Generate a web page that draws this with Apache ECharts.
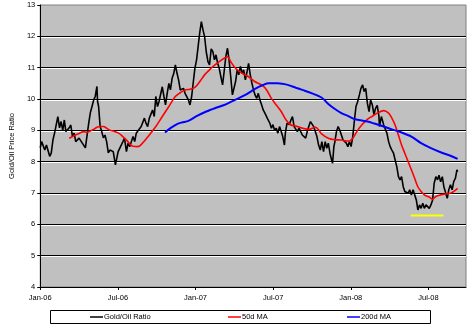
<!DOCTYPE html>
<html style="height: 100%">
<head>
  <meta charset="utf-8">
  <title>Gold/Oil Price Ratio</title>
  <script src="https://cdn.jsdelivr.net/npm/echarts@6/dist/echarts.min.js"></script>
</head>
<body style="margin: 0; height: 100%; background: #fff">
  <div id="main" style="width: 470px; height: 327px"></div>

  <script>
    // x = months since Jan-06
    const xTickMonths = [0, 6, 12, 18, 24, 30];
    const xTickLabels = ['Jan-06', 'Jul-06', 'Jan-07', 'Jul-07', 'Jan-08', 'Jul-08'];

    const ratioT = [0.00, 0.11, 0.35, 0.48, 0.73, 0.85, 0.98, 1.11, 1.36, 1.49, 1.61, 1.74, 1.86, 1.98, 2.24, 2.36, 2.49, 2.62, 2.74, 3.00,
      3.25, 3.49, 3.62, 3.75, 3.87, 4.00, 4.13, 4.25, 4.38, 4.43, 4.51, 4.63, 4.75, 4.88, 5.00, 5.13, 5.26, 5.38, 5.64, 5.81,
      6.02, 6.26, 6.39, 6.51, 6.66, 6.79, 6.92, 7.17, 7.30, 7.42, 7.55, 7.80, 8.05, 8.17, 8.30, 8.43, 8.68, 8.81, 8.93, 9.06,
      9.18, 9.31, 9.43, 9.56, 9.68, 9.81, 9.94, 10.06, 10.19, 10.32, 10.44, 10.57, 10.69, 10.82, 10.94, 11.07, 11.19, 11.32, 11.45, 11.57,
      11.70, 11.83, 11.95, 12.08, 12.20, 12.32, 12.45, 12.58, 12.70, 12.83, 12.96, 13.08, 13.21, 13.34, 13.46, 13.58, 13.71, 13.83, 13.96, 14.09,
      14.21, 14.34, 14.47, 14.59, 14.72, 14.85, 14.97, 15.09, 15.22, 15.34, 15.47, 15.60, 15.72, 15.85, 15.98, 16.10, 16.23, 16.36, 16.48, 16.60,
      16.73, 16.85, 16.98, 17.11, 17.23, 17.36, 17.49, 17.61, 17.74, 17.86, 17.98, 18.11, 18.24, 18.36, 18.49, 18.62, 18.74, 18.87, 18.94, 19.07,
      19.25, 19.37, 19.49, 19.62, 19.75, 19.87, 20.00, 20.25, 20.51, 20.63, 20.75, 20.88, 21.00, 21.13, 21.26, 21.38, 21.51, 21.64, 21.76, 21.89,
      22.02, 22.14, 22.26, 22.39, 22.51, 22.59, 22.69, 22.77, 22.89, 23.02, 23.15, 23.27, 23.40, 23.52, 23.65, 23.77, 23.90, 24.02, 24.15, 24.28,
      24.40, 24.53, 24.66, 24.78, 24.91, 25.03, 25.15, 25.28, 25.41, 25.53, 25.66, 25.79, 25.91, 26.04, 26.17, 26.21, 26.36, 26.54, 26.66, 26.79,
      26.92, 27.04, 27.17, 27.30, 27.42, 27.55, 27.68, 27.80, 27.92, 28.05, 28.17, 28.30, 28.43, 28.55, 28.68, 28.81, 28.93, 29.06, 29.18, 29.31,
      29.43, 29.56, 29.68, 29.81, 29.94, 30.06, 30.19, 30.32, 30.44, 30.57, 30.70, 30.81, 30.94, 31.07, 31.19, 31.32, 31.45, 31.57, 31.70, 31.83,
      31.95, 32.08, 32.20, 32.25];
    const ratioV = [8.45, 8.64, 8.37, 8.53, 8.17, 8.27, 8.69, 8.92, 9.44, 9.08, 9.28, 9.00, 9.33, 8.96, 9.08, 9.17, 8.80, 8.91, 8.64, 8.75,
      8.59, 8.44, 8.85, 9.24, 9.56, 9.76, 9.97, 10.08, 10.40, 9.92, 9.76, 9.12, 8.96, 8.76, 8.85, 8.64, 8.28, 8.37, 8.32, 7.90,
      8.32, 8.53, 8.64, 8.75, 8.32, 8.59, 8.48, 8.80, 8.64, 8.91, 8.85, 9.12, 9.39, 9.23, 9.12, 9.39, 9.65, 9.44, 10.08, 9.76,
      9.92, 9.86, 10.39, 10.08, 9.81, 10.18, 10.50, 10.29, 10.66, 10.82, 11.09, 10.82, 10.61, 10.29, 10.23, 10.34, 10.18, 10.23, 9.97, 9.81,
      10.08, 10.55, 10.98, 11.25, 11.67, 12.10, 12.47, 12.20, 11.99, 11.50, 11.19, 11.09, 11.60, 11.51, 11.25, 11.41, 11.14, 10.98, 10.71, 10.45,
      10.87, 11.35, 11.62, 11.25, 10.71, 10.13, 10.08, 10.55, 10.93, 10.77, 11.04, 10.82, 10.93, 10.61, 10.87, 11.14, 10.77, 10.50, 10.29, 10.13,
      10.02, 10.18, 9.97, 9.81, 9.65, 9.55, 9.44, 9.33, 9.23, 9.07, 9.18, 9.00, 9.07, 8.91, 9.12, 8.96, 8.80, 8.53, 8.91, 9.23,
      9.18, 9.33, 9.44, 9.12, 9.17, 8.96, 9.07, 8.85, 8.75, 8.96, 9.12, 9.28, 9.23, 9.12, 9.07, 8.80, 8.53, 8.37, 8.64, 8.32,
      8.64, 8.43, 8.59, 8.27, 8.06, 7.95, 8.48, 8.64, 8.96, 9.12, 9.00, 8.85, 8.69, 8.64, 8.59, 8.48, 8.64, 8.48, 8.80, 9.33,
      9.76, 9.92, 10.13, 10.34, 10.45, 10.24, 10.34, 9.86, 9.60, 9.97, 9.81, 9.50, 9.70, 9.80, 9.45, 9.12, 9.44, 9.17, 9.12, 8.91,
      8.64, 8.48, 8.37, 8.27, 8.06, 7.84, 7.52, 7.42, 7.52, 7.20, 7.05, 7.10, 6.99, 7.10, 6.94, 7.10, 7.15, 6.78, 6.46, 6.62,
      6.51, 6.67, 6.51, 6.62, 6.57, 6.51, 6.62, 6.78, 7.31, 7.52, 7.42, 7.57, 7.36, 7.52, 7.20, 7.26, 6.83, 7.10, 7.26, 7.10,
      7.36, 7.47, 7.74, 7.68];

    const ma50T = [2.24, 2.62, 3.00, 3.37, 3.62, 3.87, 4.13, 4.38, 4.63, 4.88, 5.13, 5.38, 5.64, 6.02, 6.26, 6.51, 6.77, 6.94, 7.17, 7.55,
      7.92, 8.43, 8.93, 9.43, 9.94, 10.44, 10.82, 11.19, 11.57, 11.95, 12.32, 12.70, 13.08, 13.34, 13.83, 14.21, 14.47, 14.72, 15.09, 15.60,
      16.10, 16.60, 17.11, 17.49, 17.86, 18.24, 18.62, 19.00, 19.37, 19.75, 20.25, 20.75, 21.26, 21.76, 22.26, 22.77, 23.27, 23.65, 23.90, 24.15,
      24.53, 24.91, 25.28, 25.66, 26.04, 26.54, 26.92, 27.17, 27.42, 27.68, 27.92, 28.17, 28.43, 28.68, 28.93, 29.18, 29.43, 29.68, 30.06, 30.32,
      30.57, 30.94, 31.32, 31.70, 31.95, 32.25];
    const ma50V = [8.75, 8.83, 8.90, 8.96, 8.94, 8.98, 9.03, 9.10, 9.12, 9.12, 9.07, 9.00, 8.98, 8.92, 8.85, 8.75, 8.64, 8.55, 8.49, 8.48,
      8.60, 8.85, 9.12, 9.44, 9.76, 10.08, 10.20, 10.29, 10.31, 10.37, 10.55, 10.77, 10.93, 11.03, 11.19, 11.30, 11.35, 11.19, 10.98, 10.82,
      10.71, 10.55, 10.45, 10.29, 10.02, 9.81, 9.60, 9.33, 9.17, 9.14, 9.07, 9.03, 9.10, 8.88, 8.75, 8.70, 8.69, 8.66, 8.66, 8.75,
      9.00, 9.20, 9.35, 9.45, 9.55, 9.63, 9.55, 9.39, 9.17, 8.85, 8.53, 8.27, 8.00, 7.74, 7.47, 7.20, 7.05, 6.94, 6.87, 6.80,
      6.89, 6.94, 6.97, 6.99, 7.05, 7.15];

    const ma200T = [9.64, 10.06, 10.57, 10.94, 11.45, 12.08, 12.83, 13.58, 14.34, 15.09, 15.85, 16.60, 17.11, 17.61, 18.36, 19.12, 19.75, 20.25, 21.00, 21.76,
      22.26, 22.77, 23.27, 23.77, 24.28, 24.78, 25.28, 25.79, 26.42, 27.17, 27.92, 28.68, 29.43, 30.19, 30.94, 31.70, 32.25];
    const ma200V = [8.93, 9.07, 9.20, 9.25, 9.30, 9.45, 9.60, 9.72, 9.83, 9.98, 10.13, 10.32, 10.43, 10.50, 10.50, 10.45, 10.36, 10.29, 10.18, 10.04,
      9.84, 9.68, 9.55, 9.46, 9.36, 9.32, 9.28, 9.22, 9.14, 9.03, 8.93, 8.80, 8.59, 8.43, 8.30, 8.19, 8.09];

    // yellow support line
    const supportT = [28.63, 31.15];
    const supportV = [6.28, 6.28];

    const zip = (t, v) => t.map((x, i) => [x, v[i]]);
    const font = 'Liberation Sans, Arial, sans-serif';

    const chart = echarts.init(document.getElementById('main'));
    chart.setOption({
      animation: false,
      grid: {
        left: 30, right: 4, top: 5, bottom: 40,
        show: true,
        backgroundColor: '#c0c0c0',
        borderColor: '#808080',
        borderWidth: 1
      },
      graphic: [{
        type: 'rect',
        shape: { x: 50.5, y: 310.5, width: 380, height: 13 },
        style: { fill: '#fff', stroke: '#000', lineWidth: 1 },
        z: 0
      }],
      legend: [
        { data: ['Gold/Oil Ratio'], left: 90 },
        { data: ['50d MA'], left: 228 },
        { data: ['200d MA'], left: 347 }
      ].map(l => Object.assign(l, {
        top: 313, padding: 0, icon: 'rect', itemWidth: 13, itemHeight: 1.5, itemGap: 0,
        textStyle: { fontSize: 7.5, fontFamily: font, color: '#000', padding: [0, 0, 0, -4] }
      })),
      xAxis: {
        type: 'value',
        min: 0,
        max: 32.9,
        interval: 6,
        axisLine: { lineStyle: { color: '#000', width: 1 } },
        axisTick: { show: true, length: 3, lineStyle: { color: '#000' }, customValues: xTickMonths },
        axisLabel: {
          customValues: xTickMonths,
          fontSize: 7.5, fontFamily: font, color: '#000', margin: 7,
          formatter: v => xTickLabels[xTickMonths.indexOf(v)] || ''
        },
        splitLine: { show: false }
      },
      yAxis: {
        type: 'value',
        min: 4,
        max: 13,
        interval: 1,
        name: 'Gold/Oil Price Ratio',
        nameLocation: 'middle',
        nameGap: 22,
        nameTextStyle: { fontSize: 7.5, fontFamily: font, color: '#000' },
        axisLine: { show: true, lineStyle: { color: '#000', width: 1 } },
        axisTick: { show: true, length: 3, lineStyle: { color: '#000' } },
        axisLabel: { fontSize: 7.5, fontFamily: font, color: '#000', margin: 5 },
        splitLine: {
          show: true,
          showMinLine: false,
          showMaxLine: false,
          lineStyle: { color: '#000', width: 1, shadowColor: '#fff', shadowOffsetY: 1, shadowBlur: 0 }
        }
      },
      series: [
        {
          name: 'Gold/Oil Ratio', type: 'line', symbol: 'none',
          data: zip(ratioT, ratioV),
          lineStyle: { color: '#000', width: 1.6 }, itemStyle: { color: '#000' }
        },
        {
          name: '50d MA', type: 'line', symbol: 'none', smooth: 0.3,
          data: zip(ma50T, ma50V),
          lineStyle: { color: '#ff0000', width: 1.6 }, itemStyle: { color: '#ff0000' }
        },
        {
          name: '200d MA', type: 'line', symbol: 'none', smooth: 0.3,
          data: zip(ma200T, ma200V),
          lineStyle: { color: '#0000ff', width: 2 }, itemStyle: { color: '#0000ff' }
        },
        {
          name: 'support', type: 'line', symbol: 'none',
          data: zip(supportT, supportV),
          lineStyle: { color: '#ffff00', width: 2 }
        }
      ]
    });
  </script>
</body>
</html>
